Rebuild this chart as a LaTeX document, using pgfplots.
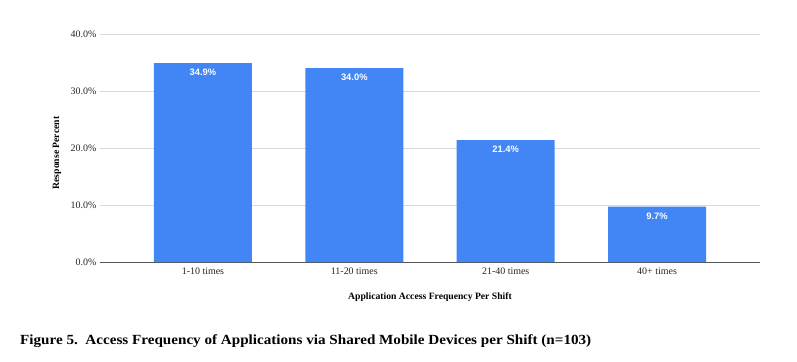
\documentclass[border=0pt]{standalone}
\usepackage{pgfplots}
\pgfplotsset{compat=1.18}
\usepackage{fontspec}
\setmainfont{Liberation Serif}
\newfontfamily\barfont{Liberation Sans}
\definecolor{barblue}{HTML}{4285F4}
\definecolor{gridgray}{HTML}{D9D9D9}
\definecolor{axisgray}{HTML}{555555}
\begin{document}
\begin{tikzpicture}[x=1bp,y=1bp]
\path[use as bounding box] (-100,-99) rectangle (697,262);
\begin{axis}[
  at={(0,0)}, anchor=south west,
  scale only axis, width=660bp, height=228bp,
  xmin=-0.68, xmax=3.68, ymin=0, ymax=40,
  axis x line*=bottom, axis y line*=left,
  y axis line style={draw=none},
  x axis line style={draw=axisgray, line width=0.9pt, -},
  major tick length=0pt,
  ytick={0,10,20,30,40},
  yticklabels={0.0\%,10.0\%,20.0\%,30.0\%,40.0\%},
  xtick={0,1,2,3},
  xticklabels={1-10 times,11-20 times,21-40 times,40+ times},
  ymajorgrids, grid style={gridgray, line width=0.7pt},
  tick label style={font=\fontsize{10}{12}\selectfont, text=black!85},
  xticklabel style={yshift=-2.5bp},
  xlabel={\bfseries Application Access Frequency Per Shift},
  ylabel={\bfseries Response Percent},
  label style={font=\fontsize{9.7}{11}\selectfont},
  xlabel style={at={(axis description cs:0.5,-0.153)}, anchor=center},
  ylabel style={at={(axis description cs:-0.065,0.478)}, anchor=center},
  point meta=explicit symbolic,
  nodes near coords,
  nodes near coords style={anchor=north, yshift=-2.5bp, text=white,
    font=\barfont\bfseries\fontsize{9.4}{11}\selectfont},
]
\addplot[ybar, bar width=0.648, fill=barblue, draw=none]
  coordinates {(0,34.9) [34.9\%] (1,34.0) [34.0\%] (2,21.4) [21.4\%] (3,9.7) [9.7\%]};
\end{axis}
\node[anchor=west, inner sep=0pt] at (-80,-79)
  {\scalebox{1.085}[1]{\bfseries\fontsize{14}{16}\selectfont Figure 5.\ \ Access Frequency of Applications via Shared Mobile Devices per Shift (n=103)}};
\end{tikzpicture}
\end{document}
